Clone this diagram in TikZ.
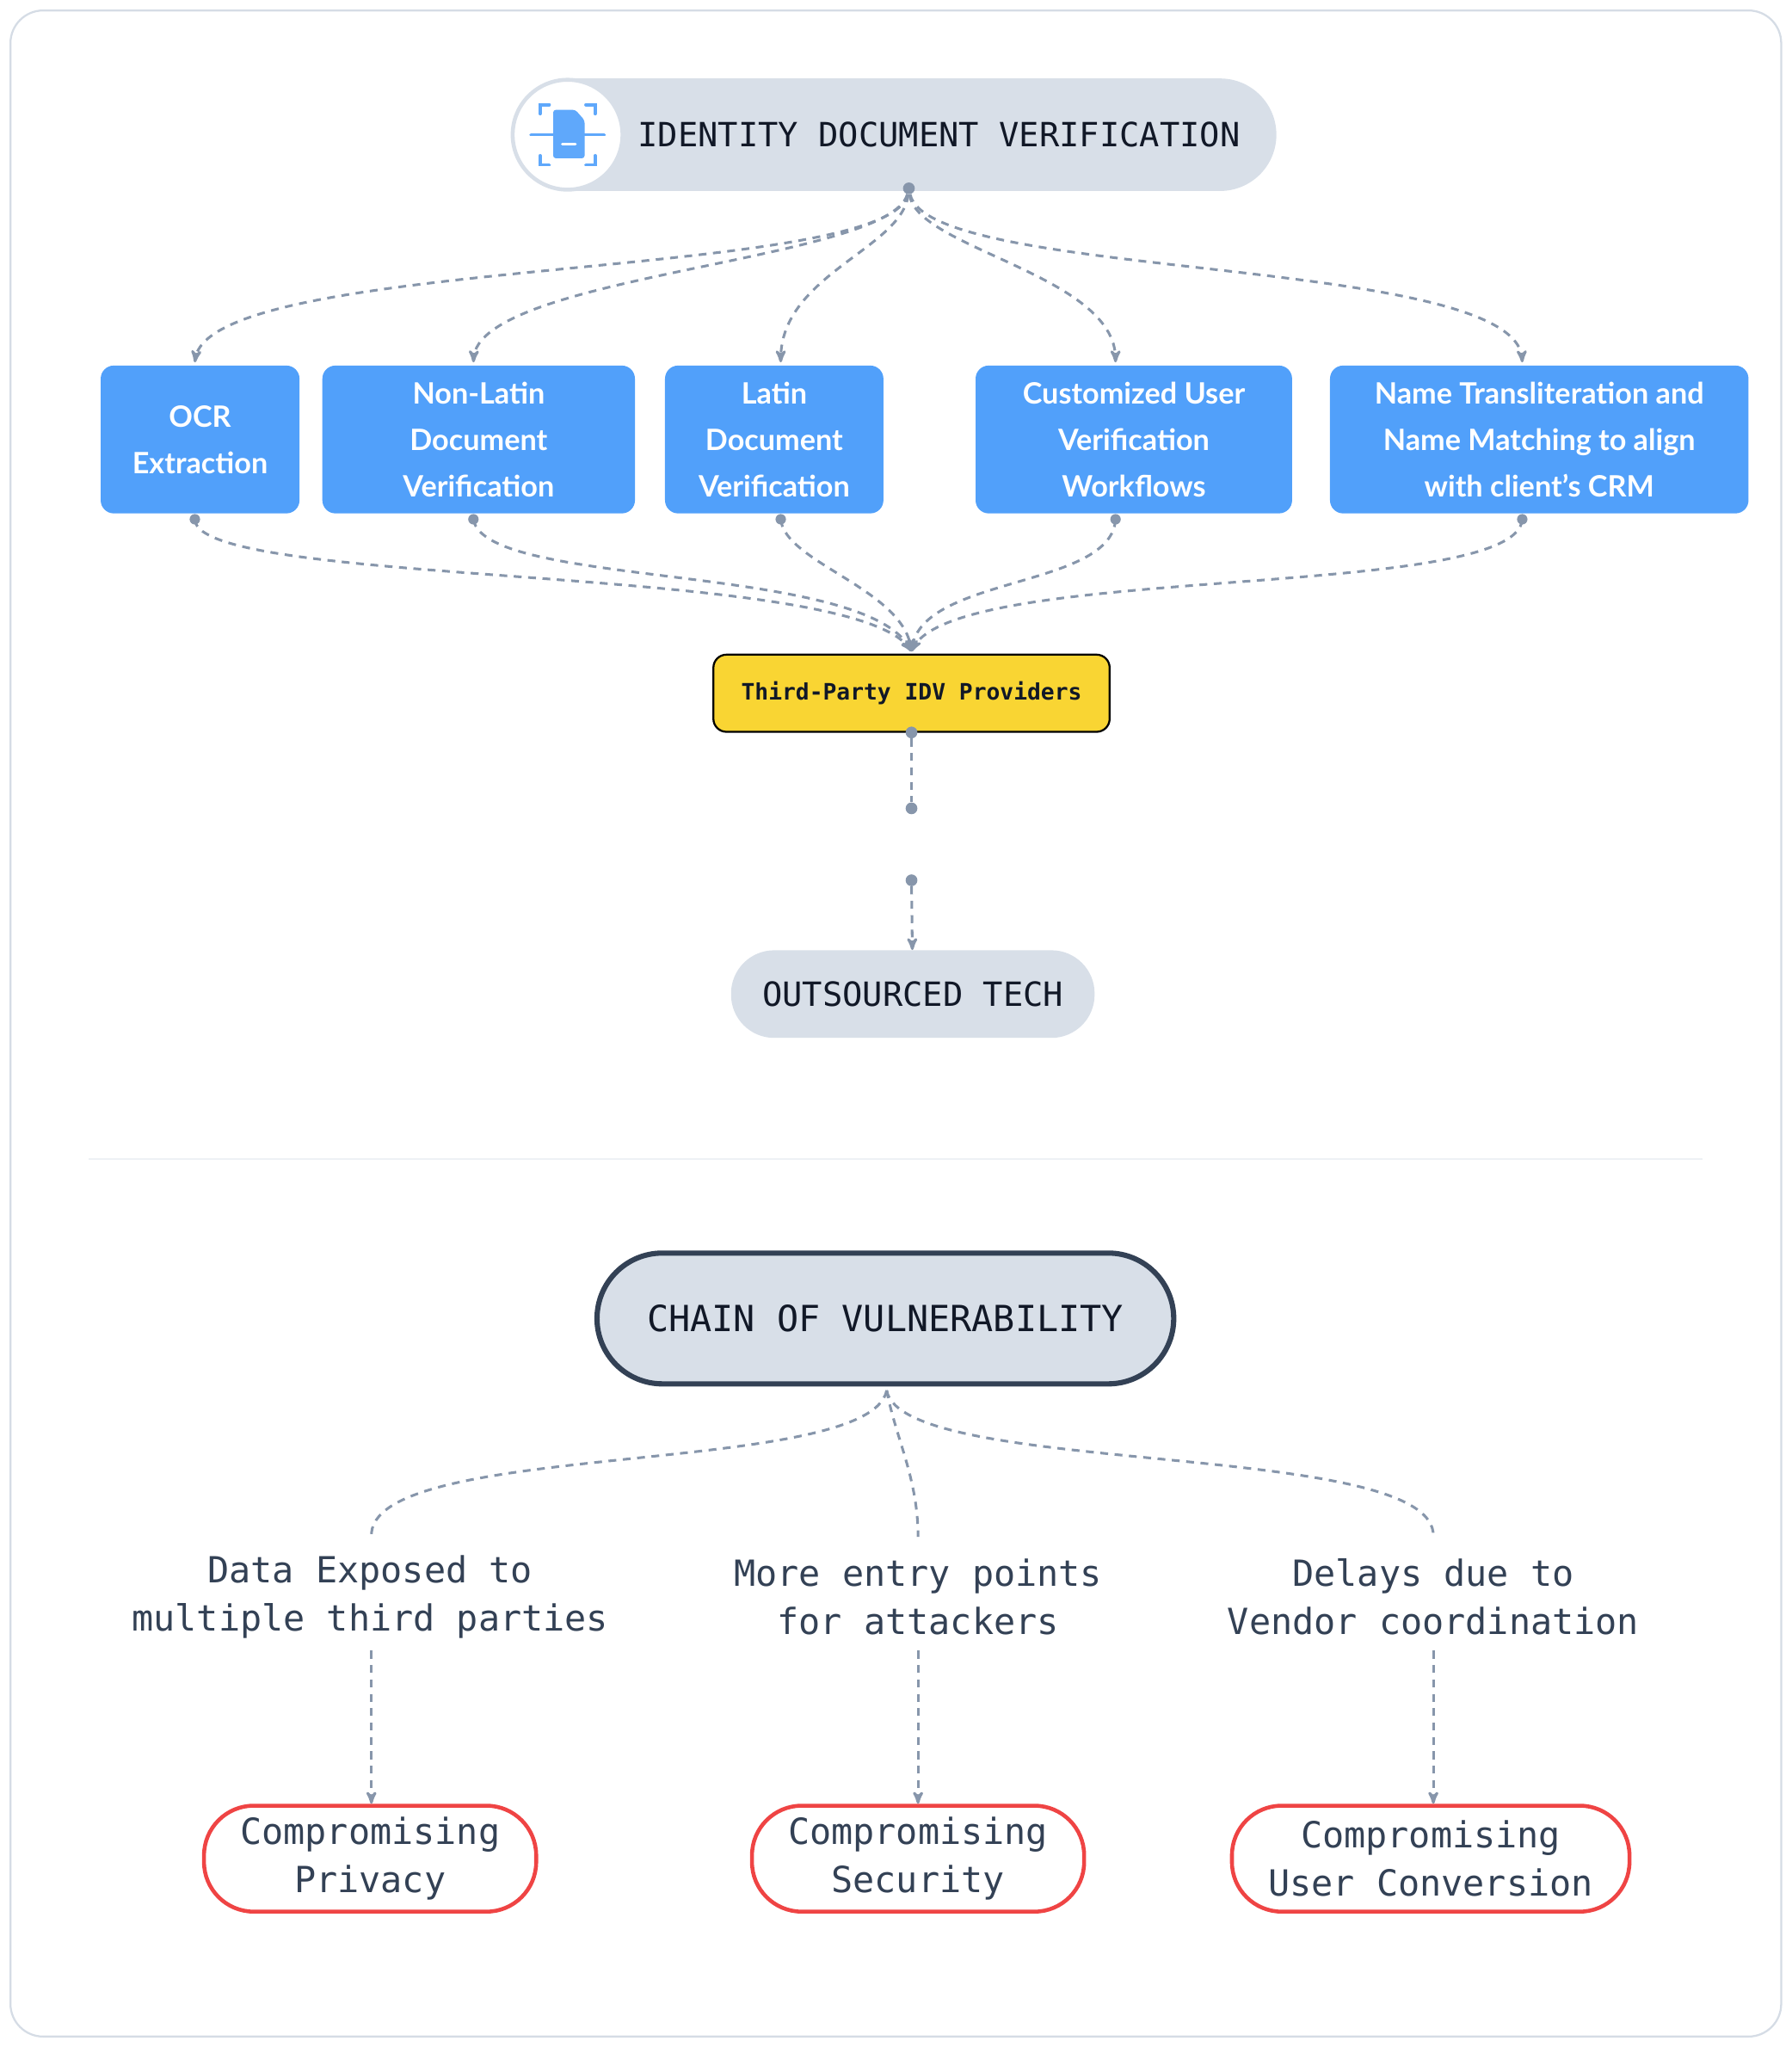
\documentclass[tikz,border=0pt]{standalone}
\usepackage{fontspec}
\setmainfont{Lato}
\newfontfamily\monofont{DejaVu Sans Mono}
\usetikzlibrary{arrows,positioning}
\definecolor{frameline}{HTML}{D5DCE5}
\definecolor{pillgray}{HTML}{D8DFE8}
\definecolor{boxblue}{HTML}{51A0FA}
\definecolor{iconblue}{HTML}{5FA8FB}
\definecolor{linkgray}{HTML}{8796AB}
\definecolor{provyellow}{HTML}{F9D533}
\definecolor{slate}{HTML}{334155}
\definecolor{inkdark}{HTML}{111827}
\definecolor{riskred}{HTML}{EF4444}
\tikzset{
 pill/.style={fill=pillgray,rounded corners=30pt,text=inkdark,inner sep=0pt,
   font=\monofont\fontsize{25.5}{30}\selectfont},
 method/.style={fill=boxblue,rounded corners=10pt,text=white,inner sep=0pt,
   minimum height=113pt,align=center,font=\bfseries\fontsize{22.5}{35.5}\selectfont},
 risk/.style={draw=riskred,line width=3pt,fill=white,rounded corners=38pt,
   minimum height=81pt,inner sep=0pt,align=center,text=slate,
   font=\monofont\fontsize{27.5}{37}\selectfont},
 cause/.style={align=center,text=slate,font=\monofont\fontsize{27.5}{37}\selectfont},
 link/.style={draw=linkgray,line width=2pt,dash pattern=on 6pt off 5pt},
 linkarrow/.style={link,-stealth',shorten >=0pt},
 dot/.style={circle,fill=linkgray,inner sep=0pt,minimum size=9pt}
}
\begin{document}
\begin{tikzpicture}[x=1pt,y=-1pt]
 \useasboundingbox (0,0) rectangle (1370,1565);
 \draw[frameline,line width=1.5pt,rounded corners=25pt] (8,8) rectangle (1362,1557);

 % title
 \node[pill,minimum width=584pt,minimum height=86pt,rounded corners=43pt] (title) at (684,103) {};
 \node[font=\monofont\fontsize{25.5}{30}\selectfont,text=inkdark] (titletext) at (718,103) {IDENTITY DOCUMENT VERIFICATION};
 \node[circle,fill=white,draw=pillgray,line width=3pt,minimum size=84pt] (icon) at (434,103) {};
 \begin{scope}[iconblue,line width=2.5pt,line cap=round]
  \draw (413,87) -- (413,80) -- (420,80);  \draw (448,80) -- (455,80) -- (455,87);
  \draw (413,119) -- (413,126) -- (420,126); \draw (448,126) -- (455,126) -- (455,119);
  \fill[rounded corners=2pt] (423,84) -- (440,84) -- (447,92) -- (447,121) -- (423,121) -- cycle;
  \draw (406,103) -- (462,103);
  \draw[white,line width=2pt] (430,110) -- (440,110);
 \end{scope}

 % methods
 \node[method,minimum width=152pt] (ocr)  at (153,336) {OCR\\Extraction};
 \node[method,minimum width=239pt] (nonlatin) at (366,336) {Non-Latin\\Document\\Verification};
 \node[method,minimum width=167pt] (latin) at (592,336) {Latin\\Document\\Verification};
 \node[method,minimum width=242pt] (custom) at (867,336) {Customized User\\Verification\\Workflows};
 \node[method,minimum width=320pt] (names) at (1177,336) {Name Transliteration and\\Name Matching to align\\with client's CRM};

 \node[dot] (hub) at (695,144) {};
 \coordinate (ocr-in) at (149,277);   \coordinate (ocr-out) at (149,397);
 \coordinate (nonlatin-in) at (362,277); \coordinate (nonlatin-out) at (362,397);
 \coordinate (latin-in) at (597,277); \coordinate (latin-out) at (597,397);
 \coordinate (custom-in) at (853,277); \coordinate (custom-out) at (853,397);
 \coordinate (names-in) at (1164,277); \coordinate (names-out) at (1164,397);
 \foreach \n in {ocr-out,nonlatin-out,latin-out,custom-out,names-out}
  \fill[linkgray] (\n) circle (4pt);

 \draw[linkarrow] (hub) .. controls (680,215) and (160,195) .. (ocr-in);
 \draw[linkarrow] (hub) .. controls (680,200) and (365,210) .. (nonlatin-in);
 \draw[linkarrow] (hub) .. controls (690,190) and (597,210) .. (latin-in);
 \draw[linkarrow] (hub) .. controls (700,190) and (853,210) .. (custom-in);
 \draw[linkarrow] (hub) .. controls (710,215) and (1160,195) .. (names-in);

 % providers
 \node[fill=provyellow,draw=black,line width=1.5pt,rounded corners=10pt,minimum width=303pt,
   minimum height=59pt,font=\monofont\bfseries\fontsize{17.3}{20}\selectfont,text=inkdark] (idv) at (697,530) {Third-Party IDV Providers};
 \coordinate (idv-in) at (697,498);
 \draw[linkarrow] (ocr-out) .. controls (150,450) and (650,430) .. (idv-in);
 \draw[linkarrow] (nonlatin-out) .. controls (370,450) and (660,430) .. (idv-in);
 \draw[linkarrow] (latin-out) .. controls (600,430) and (690,450) .. (idv-in);
 \draw[linkarrow] (custom-out) .. controls (850,450) and (705,440) .. (idv-in);
 \draw[linkarrow] (names-out) .. controls (1160,460) and (730,430) .. (idv-in);

 \node[dot] (gapa) at (697,560) {};
 \node[dot] (gapb) at (697,618) {};
 \node[dot] (gapc) at (697,673) {};
 \node[pill,minimum width=278pt,minimum height=67pt,rounded corners=33pt] (tech) at (698,760) {OUTSOURCED TECH};
 \draw[link] (gapa) -- (gapb);
 \draw[linkarrow] (gapc) -- (tech);

 \draw[frameline!40,line width=1pt] (68,886) -- (1302,886);

 % vulnerability chain
 \node[pill,draw=slate,line width=4pt,minimum width=441pt,minimum height=100pt,rounded corners=50pt,
   font=\monofont\fontsize{27.5}{30}\selectfont] (chain) at (677,1008) {CHAIN OF VULNERABILITY};
 \coordinate (split) at (678,1063);
 \node[cause] (exposed) at (283,1221) {Data Exposed to\\multiple third parties};
 \node[cause] (entry) at (702,1221) {More entry points\\for attackers};
 \node[cause] (delays) at (1096,1221) {Delays due to\\Vendor coordination};
 \coordinate (exposed-in) at (284,1175);  \coordinate (exposed-out) at (284,1262);
 \coordinate (entry-in) at (702,1175);    \coordinate (entry-out) at (702,1262);
 \coordinate (delays-in) at (1096,1175);  \coordinate (delays-out) at (1096,1262);
 \draw[link] (split) .. controls (665,1130) and (280,1100) .. (exposed-in);
 \draw[link] (split) .. controls (685,1100) and (702,1130) .. (entry-in);
 \draw[link] (split) .. controls (690,1130) and (1100,1100) .. (delays-in);

 \node[risk,minimum width=254pt] (privacy) at (283,1421) {Compromising\\Privacy};
 \node[risk,minimum width=254pt] (security) at (702,1421) {Compromising\\Security};
 \node[risk,minimum width=304pt] (conversion) at (1094,1421) {Compromising\\User Conversion};
 \draw[linkarrow] (exposed-out) -- (exposed-out |- privacy.north);
 \draw[linkarrow] (entry-out) -- (entry-out |- security.north);
 \draw[linkarrow] (delays-out) -- (delays-out |- conversion.north);
\end{tikzpicture}
\end{document}
